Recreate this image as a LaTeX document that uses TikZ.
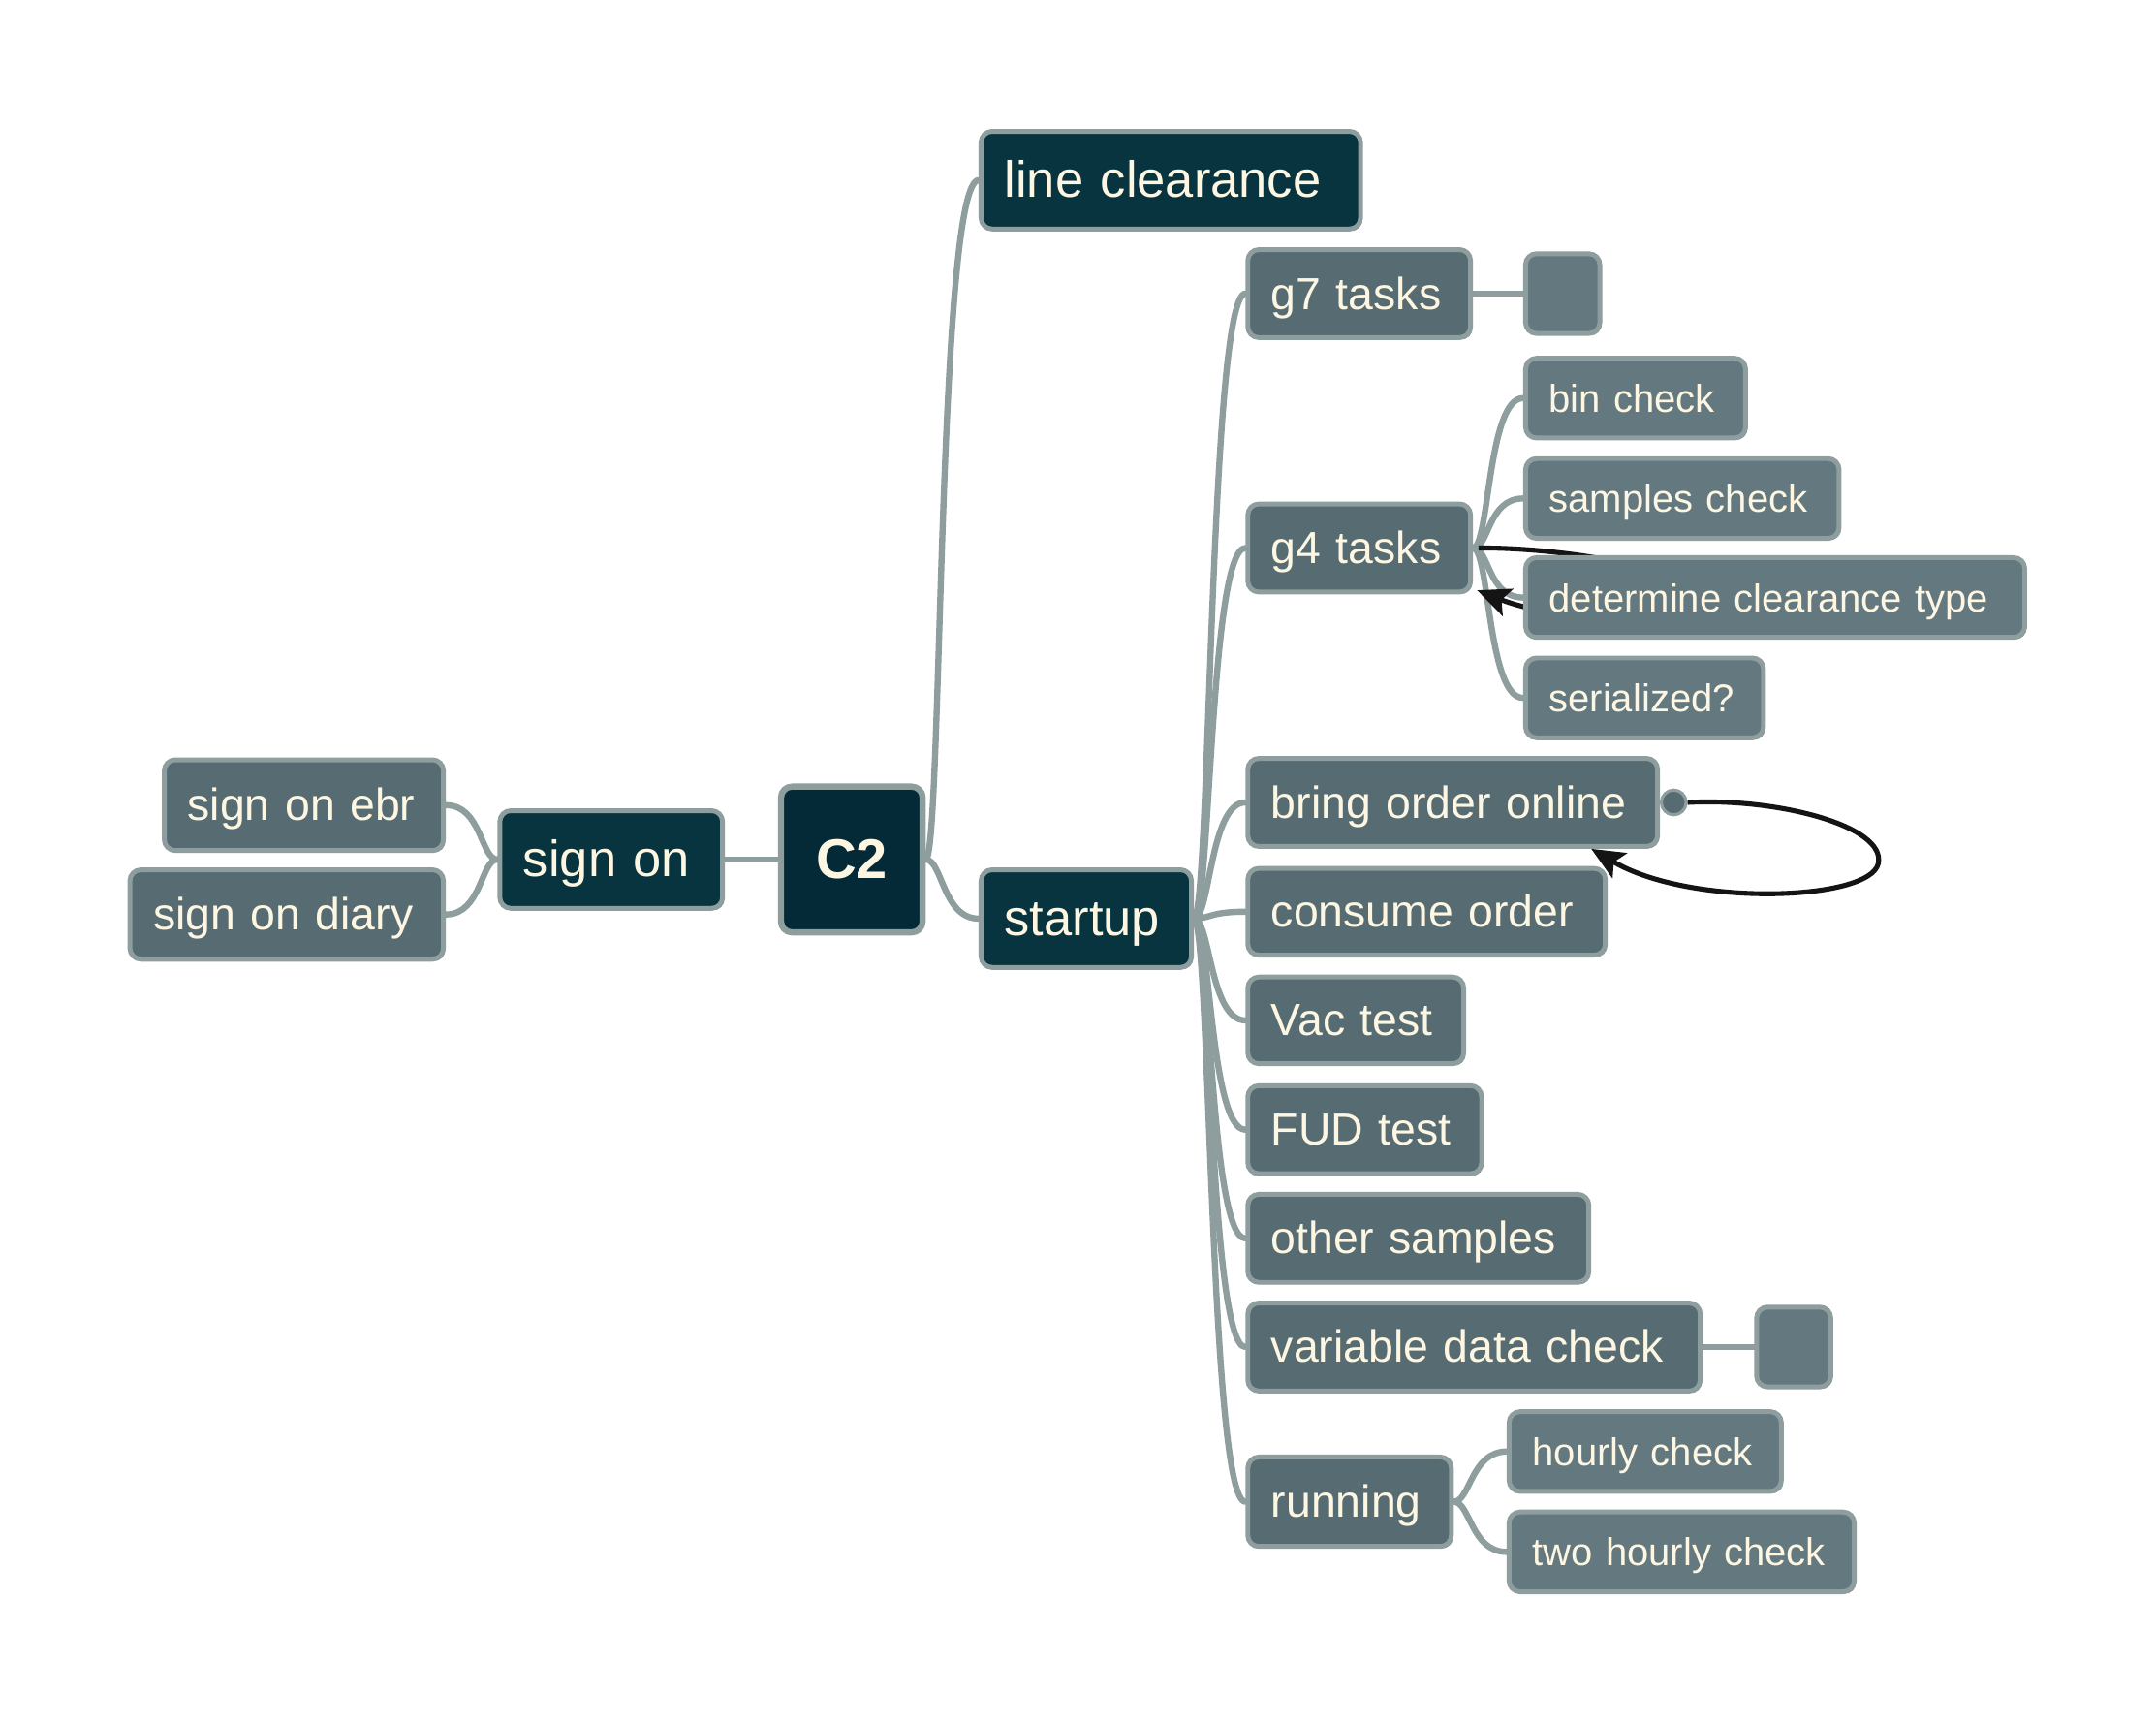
\documentclass[tikz,border=0pt]{standalone}
\usepackage{fontspec}
\setmainfont{Liberation Sans}
\usetikzlibrary{arrows.meta,backgrounds,shadows}
\definecolor{rootc}{HTML}{032A36}
\definecolor{lone}{HTML}{08343F}
\definecolor{ltwo}{HTML}{566C72}
\definecolor{lthree}{HTML}{64787F}
\definecolor{edgec}{HTML}{8E9D9D}
\definecolor{txtc}{HTML}{FCF6E2}
\begin{document}
\begin{tikzpicture}[x=1pt,y=-1pt,
  box/.style={rounded corners=8pt, draw=edgec, line width=3.5pt, text=txtc,
    inner xsep=17pt, inner ysep=0pt, align=left,
    drop shadow={shadow xshift=1.3pt, shadow yshift=-1.3pt, fill=black, opacity=0.55}},
  rootbox/.style={box, fill=rootc, line width=4.5pt, align=center,
    font=\bfseries\fontsize{40.7}{44}\selectfont},
  lvone/.style={box, fill=lone, font=\fontsize{37}{40}\selectfont, text height=29.6pt, text depth=4.8pt},
  lvtwo/.style={box, fill=ltwo, font=\fontsize{32.7}{36}\selectfont, text height=26.5pt, text depth=3.9pt},
  lvthree/.style={box, fill=lthree, font=\fontsize{28.2}{32}\selectfont, text height=23.3pt, text depth=2.9pt},
  emptybox/.style={box, fill=lthree, inner sep=0pt},
  conn/.style={draw=edgec, line width=4.5pt, line cap=round},
  rel/.style={draw=black!92, line width=3.6pt, -{Stealth[length=24pt,width=21pt,inset=5pt]}},
  startdot/.style={circle, fill=ltwo, draw=edgec, line width=2.2pt, minimum size=18pt, inner sep=0pt}
]
\useasboundingbox (0,0) rectangle (1568,1254);

% nodes
\node[rootbox, minimum width=103, minimum height=106] (c2) at (619.5,625) {C2};
\node[lvone, text width=128pt, minimum height=71] (signon) at (444.5,625) {sign on};
\node[lvtwo, text width=169pt, minimum height=66] (ebr) at (221,585.5) {sign on ebr};
\node[lvtwo, text width=194pt, minimum height=65] (diary) at (208.5,665) {sign on diary};
\node[lvone, text width=242pt, minimum height=71] (lc) at (851.5,131) {line clearance};
\node[lvone, text width=119pt, minimum height=71] (startup) at (790,668) {startup};
\node[lvtwo, text width=128pt, minimum height=64] (g7) at (988.5,213.5) {g7 tasks};
\node[emptybox, minimum width=54, minimum height=58] (g7x) at (1136.5,213.5) {};
\node[lvthree, text width=126pt, minimum height=58] (bin) at (1189.5,289.5) {bin check};
\node[lvthree, text width=194pt, minimum height=58] (samples) at (1223.5,362.5) {samples check};
\node[lvtwo, text width=128pt, minimum height=64] (g4) at (988.5,398.5) {g4 tasks};

% relationship loop on g4 tasks (passes behind the next box)
\coordinate (g4tip) at ([shift={(3,-3)}]g4.south east);
\draw[rel] ([xshift=4]g4.east) .. controls (1140,398) and (1230,415) .. (1230,432)
  .. controls (1230,450) and (1140,455) .. (g4tip);

\node[lvthree, text width=329pt, minimum height=58] (determine) at (1291,434.5) {determine clearance type};
\node[lvthree, text width=139pt, minimum height=58] (serial) at (1196,507.5) {serialized?};
\node[lvtwo, text width=264pt, minimum height=64] (bring) at (1056.5,583.5) {bring order online};
\node[lvtwo, text width=226pt, minimum height=63] (consume) at (1037.5,663) {consume order};
\node[lvtwo, text width=123pt, minimum height=63] (vac) at (986,742) {Vac test};
\node[lvtwo, text width=136pt, minimum height=64] (fud) at (992.5,821.5) {FUD test};
\node[lvtwo, text width=214pt, minimum height=64] (other) at (1031.5,900.5) {other samples};
\node[lvtwo, text width=295pt, minimum height=64] (vdc) at (1072,979.5) {variable data check};
\node[emptybox, minimum width=54, minimum height=58] (vdcx) at (1304.5,979.5) {};
\node[lvtwo, text width=114pt, minimum height=65] (running) at (981.5,1092) {running};
\node[lvthree, text width=164pt, minimum height=58] (hourly) at (1196.5,1055.5) {hourly check};
\node[lvthree, text width=217pt, minimum height=58] (twohourly) at (1223,1128.5) {two hourly check};

% relationship loop on bring order online
\node[startdot] (bdot) at ([xshift=10]bring.east) {};
\coordinate (btip) at ([xshift=-50]bring.south east);
\draw[rel] (bdot.east) .. controls (1290,580) and (1372,600) .. (1366,628)
  .. controls (1360,655) and (1230,660) .. (btip);

% tree connectors
\begin{scope}[on background layer]
  \fill[white] (0,0) rectangle (1568,1254);
  \draw[conn] (c2.west) -- (signon.east);
  \draw[conn] (signon.west) .. controls +(-12,0) and +(26,0) .. (ebr.east);
  \draw[conn] (signon.west) .. controls +(-12,0) and +(26,0) .. (diary.east);
  \draw[conn] (c2.east) .. controls +(12,0) and +(-30,0) .. (lc.west);
  \draw[conn] (c2.east) .. controls +(12,0) and +(-26,0) .. (startup.west);
  \foreach \n in {g7,g4,bring,consume,vac,fud,other,vdc,running}
    \draw[conn] (startup.east) .. controls +(12,0) and +(-26,0) .. (\n.west);
  \draw[conn] (g7.east) -- (g7x.west);
  \draw[conn] (vdc.east) -- (vdcx.west);
  \foreach \n in {bin,samples,determine,serial}
    \draw[conn] (g4.east) .. controls +(12,0) and +(-26,0) .. (\n.west);
  \draw[conn] (running.east) .. controls +(12,0) and +(-26,0) .. (hourly.west);
  \draw[conn] (running.east) .. controls +(12,0) and +(-26,0) .. (twohourly.west);
\end{scope}
\end{tikzpicture}
\end{document}
